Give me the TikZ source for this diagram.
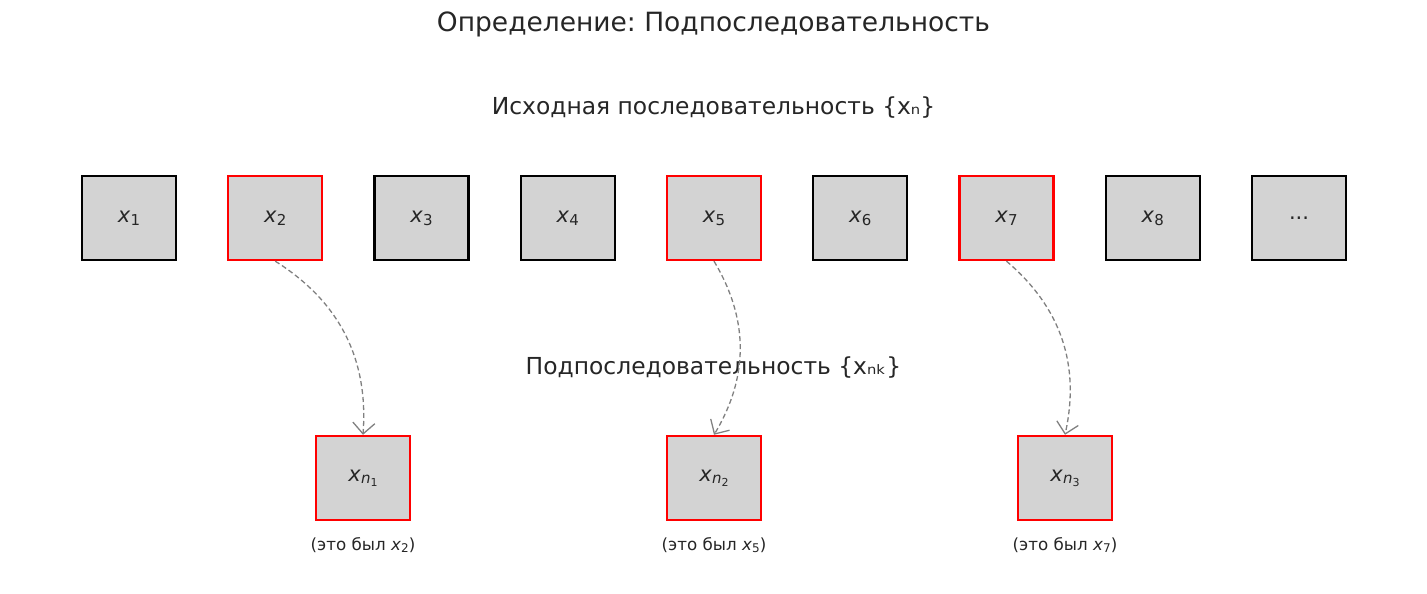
\documentclass[tikz,border=0pt]{standalone}
\usepackage{fontspec}
\setmainfont{DejaVu Sans}
\usetikzlibrary{arrows.meta}
\definecolor{boxgray}{HTML}{D3D3D3}
\definecolor{inkgray}{HTML}{262626}
\frenchspacing
\newcommand{\lowered}[3]{\raisebox{-#2pt}{\fontsize{#1}{#1}\selectfont #3}}
\newcommand{\xvar}[1]{\textit{x}\lowered{15}{3}{#1}}
\newcommand{\xnvar}[1]{\textit{x}\lowered{15}{2.5}{\textit{n}\lowered{11}{2.5}{#1}}}
\begin{document}
\begin{tikzpicture}[x=1pt,y=1pt,
    every node/.style={text=inkgray},
    cell/.style={draw=black, line width=2.4pt, fill=boxgray, inner sep=0pt,
      minimum width=94pt, minimum height=84pt, font=\fontsize{21}{24}\selectfont},
    picked/.style={cell, draw=red},
    heading/.style={font=\fontsize{23.4}{28}\selectfont},
    note/.style={font=\fontsize{16.7}{20}\selectfont},
    link/.style={draw=gray, line width=1.3pt, dash pattern=on 5pt off 3pt,
      -{Straight Barb[length=11pt,width=22pt]}}]
  \useasboundingbox (0,0) rectangle (1427,594);
  \node[font=\fontsize{26.5}{32}\selectfont] (title) at (713.5,570) {Определение: Подпоследовательность};
  \node[heading] (orig) at (713.5,486) {Исходная последовательность \{xₙ\}};
  % top row
  \foreach \i/\edge in {1/black,2/red,3/black,4/black,5/red,6/black,7/red,8/black}
    \node[cell, draw=\edge] (x\i) at ({129+146.25*(\i-1)},376) {\xvar{\i}};
  \node[cell] (x9) at (1299,376) {\raisebox{-4pt}{...}};
  \node[heading] (sub) at (713.5,226) {Подпоследовательность \{xₙₖ\}};
  % bottom row
  \node[picked] (s1) at (363,116) {\xnvar{1}};
  \node[picked] (s2) at (714,116) {\xnvar{2}};
  \node[picked] (s3) at (1065,116) {\xnvar{3}};
  \node[note] (n1) at (363,49) {(это был \textit{x}\lowered{12}{2}{2})};
  \node[note] (n2) at (714,49) {(это был \textit{x}\lowered{12}{2}{5})};
  \node[note] (n3) at (1065,49) {(это был \textit{x}\lowered{12}{2}{7})};
  \draw[link] (x2.south) to[bend left=31] (s1.north);
  \draw[link] (x5.south) to[bend left=31] (s2.north);
  \draw[link] (x7.south) to[bend left=31] (s3.north);
\end{tikzpicture}
\end{document}
